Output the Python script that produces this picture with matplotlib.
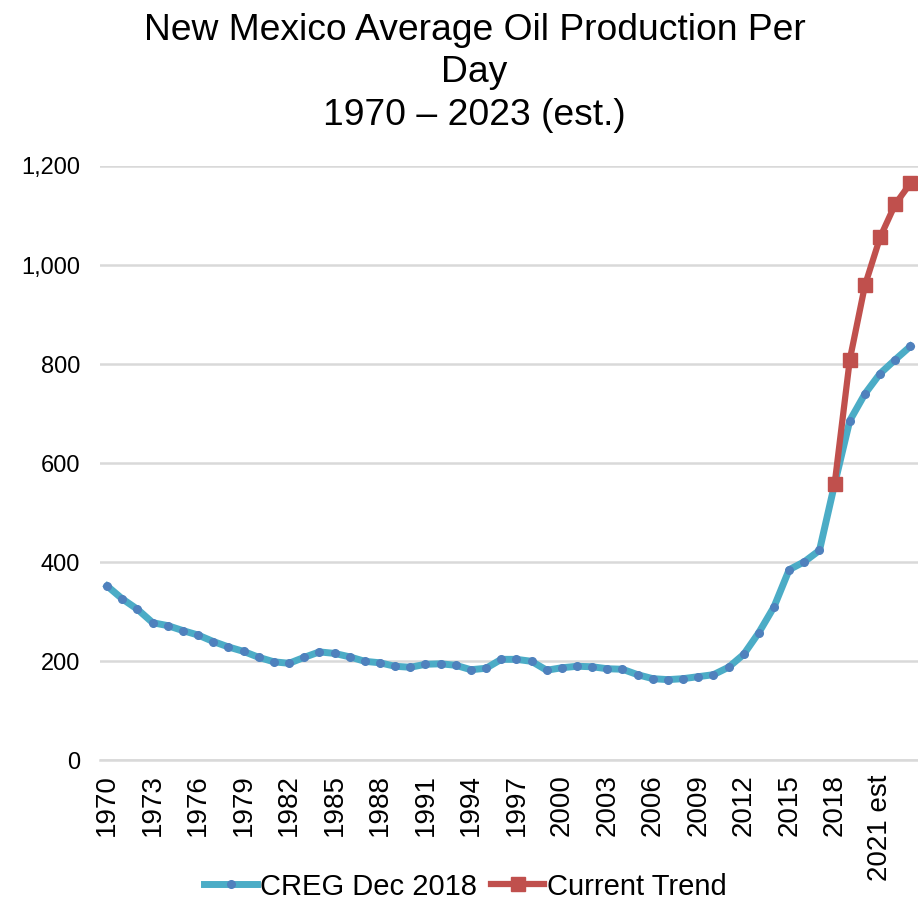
import matplotlib.pyplot as plt
from matplotlib.ticker import FuncFormatter

plt.rcParams['font.family'] = ['Liberation Sans', 'DejaVu Sans']

# category labels, one per year
years = [str(y) for y in range(1970, 2019)] + [str(y) + " est" for y in range(2019, 2024)]

# CREG Dec 2018 forecast, thousand barrels per day
creg = [352, 326, 305, 278, 272, 262, 253, 240, 229, 220,
        208, 199, 196, 208, 219, 216, 209, 200, 197, 190,
        188, 194, 195, 192, 183, 186, 204, 204, 200, 182,
        187, 190, 189, 185, 184, 173, 165, 163, 165, 169,
        173, 188, 214, 258, 310, 385, 401, 424, 558, 686,
        740, 781, 809, 836]

# current trend, 2018 onward
trend_start = 48
trend = [558, 809, 959, 1056, 1123, 1165]

fig = plt.figure(figsize=(9.18, 9.02), dpi=100)
ax = fig.add_axes([0.1085, 0.157, 0.8915, 0.659])

x = list(range(len(years)))
ax.plot(x, creg, color="#4BACC6", lw=5, marker="o", ms=5.5,
        mfc="#4F81BD", mec="#4F81BD", label="CREG Dec 2018", zorder=3)
xt = x[trend_start:trend_start + len(trend)]
ax.plot(xt, trend, color="#C0504D", lw=4.5, marker="s", ms=10,
        mfc="#C0504D", mec="#C0504D", label="Current Trend", zorder=4)

ax.set_xlim(-0.5, len(years) - 0.5)
ax.set_ylim(0, 1200)
ax.set_yticks(range(0, 1201, 200))
ax.yaxis.set_major_formatter(FuncFormatter(lambda v, p: f"{int(v):,}"))
ax.set_xticks(x[::3])
ax.set_xticklabels(years[::3], rotation=90)

ax.grid(axis="y", color="#D9D9D9", lw=1.8)
ax.set_axisbelow(True)
for s in ["top", "right", "left"]:
    ax.spines[s].set_visible(False)
ax.spines["bottom"].set_color("#D9D9D9")
ax.spines["bottom"].set_linewidth(1.8)
ax.tick_params(axis="both", length=0, colors="black")
ax.tick_params(axis="y", pad=14, labelsize=17)
ax.tick_params(axis="x", pad=10, labelsize=20)

fig.text(0.517, 0.986, "New Mexico Average Oil Production Per\nDay\n1970 \u2013 2023 (est.)",
         ha="center", va="top", fontsize=26.8, linespacing=1.28)

fig.legend(loc="center", bbox_to_anchor=(0.507, 0.017), ncol=2, frameon=False,
           fontsize=21, handlelength=1.8, handletextpad=0.1, columnspacing=0.5,
           borderaxespad=0)

fig.savefig("out.png", dpi=100)
